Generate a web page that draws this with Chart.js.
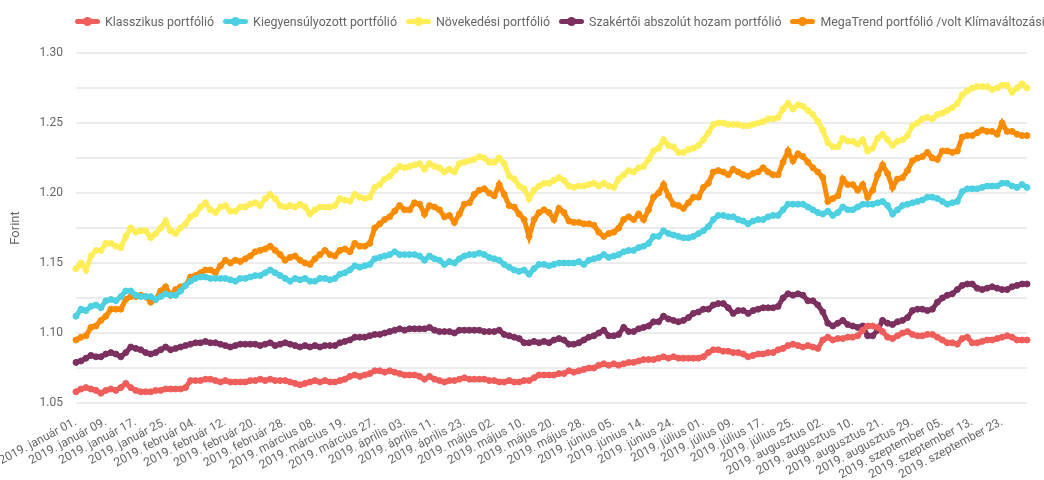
<!DOCTYPE html>
<html lang="hu">
<head>
<meta charset="utf-8">
<title>Portfóliók árfolyama 2019</title>
<script src="https://cdn.jsdelivr.net/npm/chart.js@4.4.1/dist/chart.umd.min.js"></script>
<style>
  body { margin: 0; overflow: hidden; background: #fff; }
  #wrap { position: relative; width: 1044px; height: 480px; }
  #legend {
    position: absolute; left: 75px; top: 13px;
    white-space: nowrap; font: 12.4px Roboto, sans-serif; color: #666; line-height: 14px;
  }
  .item { display: inline-flex; align-items: center; margin-right: 9px; }
  .icon { position: relative; width: 25px; height: 5px; border-radius: 3px; margin-right: 5px; }
  .icon i { position: absolute; left: 8px; top: -2px; width: 9px; height: 9px; border-radius: 50%; }
</style>
</head>
<body>
<div id="wrap">
  <canvas id="chart" width="1044" height="480"></canvas>
  <div id="legend"></div>
</div>
<script>
// trading days of 2019 (month-end values included)
const days = [
  '01-01','01-02','01-03','01-04','01-07','01-08','01-09','01-10','01-11','01-14','01-15','01-16','01-17','01-18','01-21','01-22','01-23','01-24','01-25','01-28','01-29','01-30','01-31',
  '02-01','02-04','02-05','02-06','02-07','02-08','02-11','02-12','02-13','02-14','02-15','02-18','02-19','02-20','02-21','02-22','02-25','02-26','02-27','02-28',
  '03-01','03-04','03-05','03-06','03-07','03-08','03-11','03-12','03-13','03-14','03-18','03-19','03-20','03-21','03-22','03-25','03-26','03-27','03-28','03-29','03-31',
  '04-01','04-02','04-03','04-04','04-05','04-08','04-09','04-10','04-11','04-12','04-15','04-16','04-17','04-18','04-23','04-24','04-25','04-26','04-29','04-30',
  '05-02','05-03','05-06','05-07','05-08','05-09','05-10','05-13','05-14','05-15','05-16','05-17','05-20','05-21','05-22','05-23','05-24','05-27','05-28','05-29','05-30','05-31',
  '06-03','06-04','06-05','06-06','06-07','06-11','06-12','06-13','06-14','06-17','06-18','06-19','06-20','06-21','06-24','06-25','06-26','06-27','06-28','06-30',
  '07-01','07-02','07-03','07-04','07-05','07-08','07-09','07-10','07-11','07-12','07-15','07-16','07-17','07-18','07-19','07-22','07-23','07-24','07-25','07-26','07-29','07-30','07-31',
  '08-01','08-02','08-05','08-06','08-07','08-08','08-09','08-10','08-12','08-13','08-14','08-15','08-16','08-21','08-22','08-23','08-26','08-27','08-28','08-29','08-30','08-31',
  '09-02','09-03','09-04','09-05','09-06','09-09','09-10','09-11','09-12','09-13','09-16','09-17','09-18','09-19','09-20','09-23','09-24','09-25','09-26','09-27','09-30'
];
const honapok = ['január','február','március','április','május','június','július','augusztus','szeptember'];
const labels = days.map(d => '2019. ' + honapok[+d.slice(0, 2) - 1] + ' ' + d.slice(3) + '.');
const tickEvery = 6;

const klasszikus = [
  1.058,1.060,1.061,1.060,1.059,1.057,1.059,1.060,1.059,1.061,
  1.064,1.061,1.059,1.058,1.058,1.058,1.059,1.059,1.060,1.060,
  1.060,1.060,1.061,1.066,1.066,1.066,1.067,1.067,1.066,1.065,
  1.066,1.065,1.065,1.065,1.065,1.066,1.066,1.067,1.066,1.067,
  1.066,1.066,1.066,1.065,1.064,1.063,1.064,1.065,1.066,1.065,
  1.066,1.065,1.065,1.066,1.067,1.069,1.070,1.069,1.070,1.071,
  1.073,1.073,1.072,1.073,1.072,1.071,1.070,1.070,1.070,1.069,
  1.067,1.069,1.067,1.066,1.065,1.066,1.066,1.067,1.068,1.067,
  1.067,1.067,1.067,1.066,1.066,1.065,1.065,1.066,1.065,1.065,
  1.066,1.066,1.068,1.070,1.070,1.070,1.070,1.071,1.071,1.073,
  1.072,1.073,1.074,1.075,1.075,1.077,1.078,1.077,1.078,1.077,
  1.078,1.079,1.079,1.080,1.081,1.081,1.081,1.082,1.083,1.082,
  1.083,1.082,1.082,1.082,1.082,1.082,1.083,1.086,1.088,1.088,
  1.087,1.087,1.086,1.086,1.085,1.083,1.084,1.085,1.085,1.086,
  1.086,1.088,1.089,1.091,1.092,1.091,1.090,1.091,1.090,1.089,
  1.095,1.097,1.095,1.096,1.096,1.097,1.097,1.098,1.102,1.105,
  1.105,1.104,1.101,1.097,1.096,1.098,1.100,1.101,1.099,1.098,
  1.098,1.099,1.099,1.097,1.095,1.093,1.093,1.092,1.096,1.097,
  1.093,1.093,1.094,1.095,1.095,1.096,1.097,1.098,1.097,1.095,
  1.095,1.095
];
const kiegyensulyozott = [
  1.112,1.117,1.116,1.119,1.120,1.118,1.123,1.124,1.123,1.126,
  1.130,1.130,1.127,1.126,1.126,1.126,1.124,1.126,1.128,1.127,
  1.127,1.130,1.134,1.137,1.139,1.140,1.140,1.139,1.139,1.139,
  1.139,1.138,1.137,1.139,1.139,1.140,1.141,1.141,1.143,1.145,
  1.143,1.141,1.139,1.137,1.139,1.138,1.139,1.137,1.137,1.139,
  1.139,1.138,1.139,1.142,1.143,1.145,1.148,1.147,1.148,1.149,
  1.153,1.154,1.155,1.156,1.158,1.156,1.156,1.156,1.156,1.155,
  1.152,1.155,1.153,1.152,1.149,1.151,1.150,1.153,1.155,1.156,
  1.156,1.157,1.156,1.154,1.153,1.152,1.149,1.147,1.145,1.144,
  1.145,1.142,1.146,1.149,1.149,1.148,1.149,1.150,1.150,1.150,
  1.150,1.151,1.149,1.152,1.153,1.154,1.156,1.154,1.155,1.156,
  1.158,1.159,1.159,1.161,1.162,1.164,1.169,1.169,1.173,1.171,
  1.170,1.169,1.168,1.168,1.169,1.171,1.173,1.176,1.181,1.184,
  1.184,1.183,1.183,1.181,1.180,1.178,1.180,1.181,1.181,1.183,
  1.184,1.184,1.188,1.192,1.192,1.192,1.192,1.190,1.188,1.186,
  1.185,1.187,1.184,1.186,1.190,1.188,1.188,1.190,1.192,1.192,
  1.192,1.193,1.194,1.191,1.185,1.188,1.191,1.192,1.193,1.194,
  1.195,1.197,1.197,1.196,1.194,1.192,1.193,1.194,1.201,1.203,
  1.203,1.203,1.204,1.205,1.205,1.205,1.207,1.207,1.205,1.204,
  1.206,1.204
];
const novekedesi = [
  1.146,1.150,1.145,1.155,1.159,1.159,1.164,1.164,1.162,1.161,
  1.169,1.175,1.172,1.173,1.173,1.168,1.171,1.175,1.180,1.173,
  1.171,1.175,1.178,1.183,1.185,1.190,1.193,1.188,1.186,1.190,
  1.191,1.187,1.187,1.190,1.190,1.192,1.193,1.191,1.196,1.199,
  1.196,1.191,1.190,1.191,1.190,1.192,1.190,1.185,1.188,1.190,
  1.190,1.190,1.191,1.196,1.195,1.194,1.199,1.197,1.196,1.197,
  1.204,1.206,1.210,1.212,1.216,1.219,1.218,1.219,1.220,1.221,
  1.217,1.221,1.219,1.218,1.215,1.217,1.215,1.221,1.222,1.223,
  1.224,1.226,1.225,1.222,1.222,1.225,1.221,1.212,1.210,1.205,
  1.203,1.196,1.202,1.205,1.207,1.207,1.209,1.211,1.209,1.205,
  1.204,1.205,1.205,1.206,1.207,1.205,1.207,1.205,1.204,1.210,
  1.213,1.216,1.215,1.218,1.219,1.224,1.230,1.232,1.238,1.234,
  1.233,1.229,1.229,1.231,1.232,1.234,1.238,1.243,1.249,1.250,
  1.250,1.249,1.249,1.249,1.248,1.248,1.249,1.250,1.251,1.253,
  1.253,1.254,1.260,1.264,1.260,1.263,1.262,1.259,1.256,1.251,
  1.245,1.236,1.233,1.233,1.239,1.237,1.237,1.235,1.238,1.230,
  1.232,1.239,1.242,1.238,1.234,1.237,1.238,1.241,1.248,1.250,
  1.253,1.254,1.253,1.256,1.257,1.259,1.261,1.264,1.270,1.273,
  1.275,1.276,1.276,1.276,1.274,1.275,1.277,1.277,1.272,1.275,
  1.278,1.275
];
const szakertoi = [
  1.079,1.080,1.082,1.084,1.083,1.083,1.085,1.086,1.085,1.083,
  1.086,1.090,1.089,1.088,1.086,1.085,1.086,1.088,1.090,1.088,
  1.089,1.090,1.091,1.092,1.093,1.093,1.094,1.093,1.093,1.092,
  1.091,1.090,1.091,1.092,1.092,1.092,1.092,1.091,1.092,1.093,
  1.091,1.092,1.093,1.092,1.091,1.090,1.091,1.090,1.091,1.090,
  1.091,1.091,1.091,1.093,1.094,1.095,1.097,1.097,1.097,1.098,
  1.099,1.099,1.100,1.101,1.102,1.103,1.102,1.103,1.103,1.103,
  1.103,1.104,1.102,1.101,1.101,1.101,1.100,1.102,1.102,1.102,
  1.102,1.102,1.101,1.101,1.101,1.102,1.099,1.098,1.097,1.096,
  1.093,1.093,1.094,1.093,1.094,1.093,1.095,1.096,1.095,1.092,
  1.092,1.093,1.095,1.097,1.098,1.100,1.102,1.098,1.098,1.099,
  1.104,1.101,1.101,1.103,1.104,1.105,1.108,1.108,1.112,1.110,
  1.109,1.108,1.109,1.111,1.114,1.115,1.117,1.117,1.120,1.121,
  1.121,1.118,1.114,1.116,1.116,1.114,1.116,1.117,1.118,1.118,
  1.118,1.119,1.125,1.128,1.127,1.128,1.127,1.123,1.123,1.120,
  1.115,1.107,1.105,1.107,1.109,1.106,1.105,1.104,1.105,1.098,
  1.098,1.102,1.109,1.107,1.106,1.108,1.109,1.111,1.116,1.117,
  1.117,1.116,1.117,1.122,1.125,1.127,1.128,1.131,1.134,1.135,
  1.135,1.132,1.131,1.132,1.133,1.132,1.131,1.131,1.133,1.134,
  1.135,1.135
];
const megatrend = [
  1.095,1.097,1.098,1.104,1.105,1.109,1.112,1.117,1.117,1.117,
  1.124,1.126,1.126,1.127,1.126,1.122,1.124,1.130,1.133,1.127,
  1.131,1.133,1.134,1.140,1.141,1.143,1.145,1.145,1.143,1.148,
  1.152,1.150,1.152,1.151,1.153,1.155,1.158,1.159,1.160,1.162,
  1.159,1.156,1.152,1.154,1.155,1.152,1.150,1.149,1.153,1.156,
  1.159,1.156,1.155,1.159,1.160,1.158,1.164,1.162,1.162,1.164,
  1.175,1.178,1.181,1.183,1.187,1.191,1.188,1.188,1.193,1.192,
  1.185,1.191,1.190,1.188,1.183,1.184,1.179,1.185,1.192,1.193,
  1.199,1.202,1.203,1.200,1.198,1.206,1.199,1.191,1.190,1.185,
  1.181,1.169,1.181,1.186,1.188,1.186,1.181,1.189,1.186,1.180,
  1.179,1.179,1.178,1.178,1.177,1.172,1.169,1.171,1.172,1.175,
  1.181,1.183,1.181,1.185,1.181,1.188,1.197,1.200,1.206,1.198,
  1.192,1.191,1.189,1.193,1.197,1.197,1.204,1.207,1.215,1.216,
  1.215,1.213,1.217,1.215,1.213,1.212,1.214,1.215,1.218,1.215,
  1.213,1.213,1.222,1.230,1.223,1.228,1.226,1.222,1.218,1.215,
  1.211,1.194,1.196,1.198,1.210,1.206,1.206,1.202,1.206,1.197,
  1.202,1.213,1.220,1.214,1.204,1.210,1.211,1.216,1.223,1.225,
  1.226,1.229,1.225,1.224,1.230,1.230,1.229,1.230,1.240,1.241,
  1.241,1.243,1.245,1.244,1.244,1.242,1.250,1.244,1.244,1.242,
  1.241,1.241
];

const series = [
  { name: 'Klasszikus portfólió', data: klasszikus, color: '#ef5e5a' },
  { name: 'Kiegyensúlyozott portfólió', data: kiegyensulyozott, color: '#4dd0e1' },
  { name: 'Növekedési portfólió', data: novekedesi, color: '#ffee58' },
  { name: 'Szakértői abszolút hozam portfólió', data: szakertoi, color: '#7b3060' },
  { name: 'MegaTrend portfólió /volt Klímaváltozási/', data: megatrend, color: '#fb8c00' }
];

// legend as html so it stays on one line like the original
const legendEl = document.getElementById('legend');
series.forEach(s => {
  legendEl.insertAdjacentHTML('beforeend',
    '<span class="item"><span class="icon" style="background:' + s.color + '"><i style="background:' + s.color + '"></i></span>' + s.name + '</span>');
});

const font = { family: 'Roboto', size: 12 };

new Chart(document.getElementById('chart'), {
  type: 'line',
  data: {
    labels: labels,
    datasets: series.map(s => ({
      label: s.name,
      data: s.data,
      borderColor: s.color,
      backgroundColor: s.color,
      pointBackgroundColor: s.color,
      pointBorderColor: s.color,
      borderWidth: 5,
      pointRadius: 3,
      pointBorderWidth: 1,
      fill: false,
      tension: 0
    }))
  },
  options: {
    responsive: false,
    animation: false,
    layout: { padding: { top: 53, right: 17, left: 0, bottom: 0 } },
    plugins: {
      legend: { display: false },
      tooltip: { enabled: false }
    },
    scales: {
      x: {
        grid: { display: false },
        border: { display: false },
        ticks: {
          autoSkip: false,
          minRotation: 28,
          maxRotation: 28,
          padding: 4,
          color: '#666',
          font: font,
          callback: function (value, index) {
            return index % tickEvery === 0 ? this.getLabelForValue(value) : null;
          }
        },
        afterFit: function (scale) {
          scale.height = 77;
          scale.paddingLeft = 0;
          scale.paddingRight = 0;
        }
      },
      y: {
        min: 1.05,
        max: 1.30,
        title: {
          display: true,
          text: 'Forint',
          color: '#666',
          font: { family: 'Roboto', size: 13 },
          padding: { top: 8, bottom: 0 }
        },
        grid: { color: '#ececec', lineWidth: 2, drawTicks: false },
        border: { display: false },
        ticks: {
          stepSize: 0.025,
          padding: 13,
          color: '#666',
          font: font,
          callback: function (value) {
            return Math.round(value * 1000) % 50 === 0 ? value.toFixed(2) : '';
          }
        },
        afterFit: function (scale) {
          scale.width = 76;
        }
      }
    }
  }
});
</script>
</body>
</html>
